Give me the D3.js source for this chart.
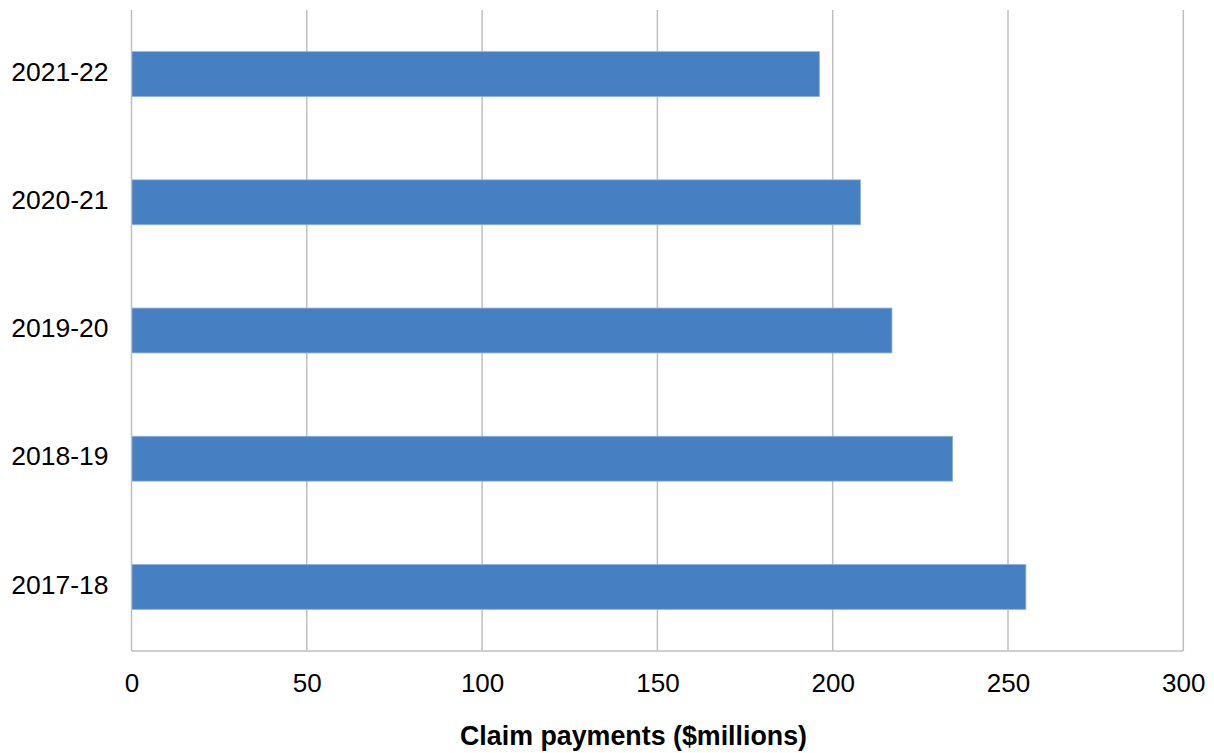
<!DOCTYPE html>
<html><head><meta charset="utf-8">
<script src="https://cdn.jsdelivr.net/npm/d3@7"></script>
<style>body{margin:0;background:#fff}svg{display:block}text{font-family:"Liberation Sans",Arial,sans-serif;fill:#000}</style>
</head><body>
<svg id="c" width="1214" height="753"></svg>
<script>
const categories = ["2021-22","2020-21","2019-20","2018-19","2017-18"];
const values = [196.2, 207.9, 216.9, 234.2, 255.1];
const xTicks = [0,50,100,150,200,250,300];
const xTitle = "Claim payments ($millions)";

const svg = d3.select("#c");
const m = {left:131.5, right:1183.3, top:10, bottom:651};
const x = d3.scaleLinear().domain([0,300]).range([m.left, m.right]);
const y = d3.scaleBand().domain(categories).range([m.top, m.bottom]).paddingInner(0.65).paddingOuter(0.325);

// gridlines
svg.append("g").selectAll("line").data(xTicks.filter(d=>d>0)).join("line")
  .attr("x1",d=>x(d)).attr("x2",d=>x(d)).attr("y1",m.top).attr("y2",m.bottom)
  .attr("stroke","#bfbfbf").attr("stroke-width",1.5);

// bars
svg.append("g").selectAll("rect").data(categories).join("rect")
  .attr("x",x(0)).attr("y",d=>y(d))
  .attr("width",(d,i)=>x(values[i])-x(0)).attr("height",y.bandwidth())
  .attr("fill","#4680c2").attr("stroke","#8fb0dd").attr("stroke-width",0.8);

// axes lines
svg.append("line").attr("x1",x(0)).attr("x2",x(0)).attr("y1",m.top).attr("y2",m.bottom).attr("stroke","#bfbfbf").attr("stroke-width",1.5);
svg.append("line").attr("x1",x(0)).attr("x2",m.right).attr("y1",m.bottom).attr("y2",m.bottom).attr("stroke","#bfbfbf").attr("stroke-width",1.5);

// x tick labels
const xa = d3.axisBottom(x).tickValues(xTicks).tickSize(0).tickPadding(0);
const gx = svg.append("g").attr("transform",`translate(0,${m.bottom+41})`).call(xa);
gx.select(".domain").remove();
gx.selectAll("text").attr("font-size",26).attr("dy",0).attr("font-family","Liberation Sans, Arial, sans-serif").attr("fill","#000");

// y labels
const ya = d3.axisLeft(y).tickSize(0).tickPadding(23);
const gy = svg.append("g").attr("transform",`translate(${m.left},0)`).call(ya);
gy.select(".domain").remove();
gy.selectAll("text").attr("font-size",26.5).attr("dy","0.25em").attr("font-family","Liberation Sans, Arial, sans-serif").attr("fill","#000");

svg.append("text").attr("x",633.5).attr("y",745).attr("text-anchor","middle")
  .attr("font-size",26.8).attr("font-weight","bold").text(xTitle);
</script>
</body></html>
